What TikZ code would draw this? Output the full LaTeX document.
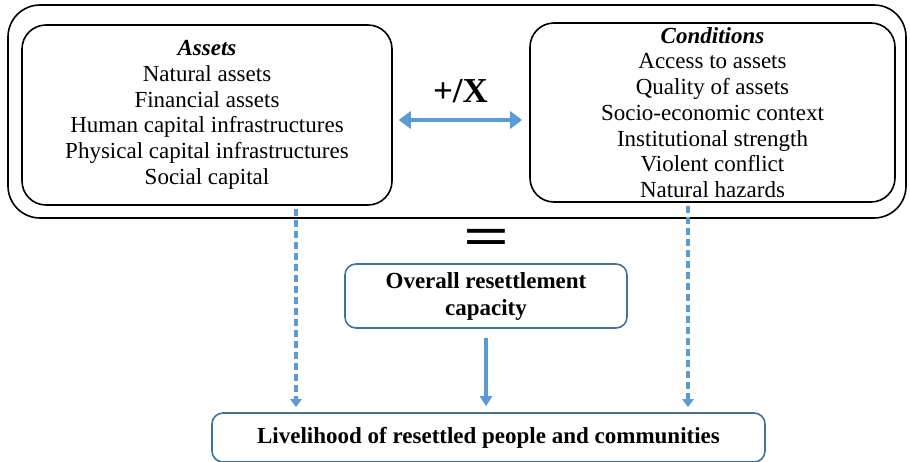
\documentclass[tikz,border=0pt]{standalone}
\usepackage{fontspec}
\setmainfont{Liberation Serif}
\usetikzlibrary{arrows.meta}
\definecolor{arrblue}{HTML}{5B9BD5}
\definecolor{boxblue}{HTML}{41719C}
\tikzset{
	box/.style={draw=black, line width=1.6pt, rounded corners=24pt, align=center, inner sep=0pt,
		font=\fontsize{23}{25.7}\selectfont},
	bluebox/.style={draw=boxblue, line width=1.6pt, rounded corners=11pt, align=center, inner sep=0pt,
		font=\bfseries\fontsize{23}{27}\selectfont},
	dbl/.style={arrblue, line width=4.5pt, {Triangle[length=12pt,width=17pt]}-{Triangle[length=12pt,width=17pt]}},
	dsh/.style={arrblue, line width=3.2pt, dash pattern=on 7pt off 4pt, -{Triangle[length=8pt,width=11pt]}},
	sld/.style={arrblue, line width=3.2pt, -{Triangle[length=10pt,width=12pt]}}
}
\begin{document}
\begin{tikzpicture}[x=1pt,y=-1pt, line join=round]
	\useasboundingbox (0,0) rectangle (910,461);
	\node[box, minimum width=898pt, minimum height=213pt, rounded corners=32pt] (outer) at (457,111.5) {};
	\node[box, minimum width=370pt, minimum height=180pt] (assets) at (207,115)
		{\textbf{\textit{Assets}}\\Natural assets\\Financial assets\\Human capital infrastructures\\Physical capital infrastructures\\Social capital};
	\node[box, minimum width=365pt, minimum height=179pt] (conds) at (712.5,112.5)
		{\textbf{\textit{Conditions}}\\Access to assets\\Quality of assets\\Socio-economic context\\Institutional strength\\Violent conflict\\Natural hazards};
	\draw[dbl] ([shift={(6,5)}]assets.east) -- ([shift={(-7,7.5)}]conds.west)
		node[midway, above=12pt, black, font=\bfseries\fontsize{35}{35}\selectfont] (op) {+/X};
	\node at (487,242) [font=\bfseries\fontsize{56}{56}\selectfont] (eq) {\scalebox{1.45}[1]{=}};
	\node[bluebox, minimum width=282pt, minimum height=64pt] (overall) at (486,296) {Overall resettlement\\capacity};
	\node[bluebox, minimum width=553pt, minimum height=49pt] (live) at (488.5,437.5) {Livelihood of resettled people and communities};
	% arrows to livelihood
	\draw[dsh, shorten <=3pt, shorten >=5pt] ([xshift=89pt]assets.south) -- ([xshift=89pt]assets.south |- live.north);
	\draw[dsh, shorten <=3pt, shorten >=5pt] ([xshift=-24.5pt]conds.south) -- ([xshift=-24.5pt]conds.south |- live.north);
	\draw[sld, shorten <=9pt, shorten >=6pt] (overall.south) -- (overall.south |- live.north);
\end{tikzpicture}
\end{document}
